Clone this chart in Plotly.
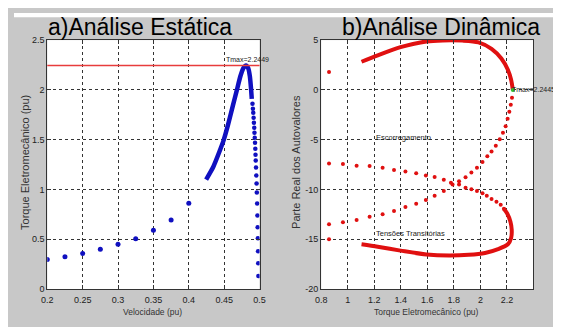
import plotly.graph_objects as go

# ---------------- data ----------------
# a) static analysis: torque vs speed
static_sparse_speed = [0.200, 0.225, 0.250, 0.275, 0.300, 0.325, 0.350, 0.375, 0.400]
static_sparse_torque = [0.298, 0.324, 0.357, 0.399, 0.450, 0.506, 0.590, 0.694, 0.863]

static_curve_speed = [0.4245, 0.4347, 0.4439, 0.4494, 0.4555, 0.4624, 0.4680, 0.4729,
                      0.4770, 0.4808, 0.4840, 0.4863, 0.4881, 0.4890]
static_curve_torque = [1.100, 1.229, 1.391, 1.498, 1.651, 1.845, 2.000, 2.137,
                       2.218, 2.2449, 2.218, 2.137, 2.000, 1.910]

static_tail_speed = [0.4900, 0.4906, 0.4911, 0.4916, 0.4920, 0.4925, 0.4928, 0.4932,
                     0.4936, 0.4940, 0.4943, 0.4946, 0.4950, 0.4954, 0.4958, 0.4962,
                     0.4966, 0.4970, 0.4973, 0.4976, 0.4979, 0.4981, 0.4983]
static_tail_torque = [1.86, 1.81, 1.77, 1.72, 1.67, 1.62, 1.57, 1.52, 1.47, 1.41, 1.35,
                      1.29, 1.22, 1.14, 1.06, 0.97, 0.86, 0.74, 0.62, 0.51, 0.38, 0.26, 0.13]

tmax_static = 2.2449

# b) dynamic analysis: real part of eigenvalues vs torque
upper_curve_torque = [1.104, 1.226, 1.398, 1.594, 1.717, 1.864, 1.986, 2.084,
                      2.158, 2.207, 2.231, 2.2445]
upper_curve_real = [2.83, 3.47, 4.29, 4.87, 4.97, 4.95, 4.77, 4.12,
                    3.15, 2.02, 1.04, 0.0]

rising_torque = [0.859, 0.964, 1.067, 1.165, 1.263, 1.349, 1.435, 1.516, 1.589, 1.655,
                 1.724, 1.790, 1.839, 1.888, 1.932, 1.974, 2.016, 2.052, 2.084, 2.116,
                 2.146, 2.170, 2.190, 2.205, 2.218, 2.229, 2.238]
rising_real = [-13.48, -13.29, -13.06, -12.73, -12.48, -12.15, -11.76, -11.44, -11.05,
               -10.63, -10.15, -9.49, -9.17, -8.78, -8.30, -7.81, -7.23, -6.67, -6.19,
               -5.60, -4.95, -4.31, -3.66, -2.90, -2.20, -1.50, -0.80]

falling_torque = [0.859, 0.964, 1.067, 1.165, 1.263, 1.349, 1.435, 1.516, 1.589, 1.655,
                  1.724, 1.778, 1.839, 1.888, 1.932, 1.974, 2.016, 2.048, 2.084, 2.121,
                  2.153, 2.177]
falling_real = [-7.39, -7.45, -7.61, -7.65, -7.81, -8.04, -8.20, -8.36, -8.59, -8.75,
                -9.01, -9.33, -9.50, -9.82, -9.98, -10.15, -10.37, -10.63, -10.95,
                -11.22, -11.54, -11.93]

lower_curve_torque = [2.177, 2.202, 2.226, 2.236, 2.232, 2.207, 2.133, 2.035, 1.912,
                      1.765, 1.594, 1.398, 1.226, 1.104]
lower_curve_real = [-11.93, -12.41, -13.22, -14.04, -14.84, -15.50, -15.98, -16.37,
                    -16.56, -16.63, -16.53, -16.14, -15.75, -15.50]

isolated_torque = [0.859, 0.859]
isolated_real = [1.79, -15.01]

tmax_dynamic = 2.2445

static_xticks = [0.2, 0.25, 0.3, 0.35, 0.4, 0.45, 0.5]
static_xlabels = ["0.2", "0.25", "0.3", "0.35", "0.4", "0.45", "0.5"]
static_yticks = [0, 0.5, 1, 1.5, 2, 2.5]
static_ylabels = ["0", "0.5", "1", "1.5", "2", "2.5"]
dyn_xticks = [0.8, 1.0, 1.2, 1.4, 1.6, 1.8, 2.0, 2.2]
dyn_xlabels = ["0.8", "1", "1.2", "1.4", "1.6", "1.8", "2", "2.2"]
dyn_yticks = [-20, -15, -10, -5, 0, 5]
dyn_ylabels = ["-20", "-15", "-10", "-5", "0", "5"]

# ---------------- figure ----------------
OFF = 8                      # page body margin offset
W, H = 561 - OFF, 327 - OFF
BLUE = "#1010c0"
RED = "#e01010"
SANS = "Liberation Sans, Arial, sans-serif"


def px(xp):
    return (xp - OFF) / W


def py(yp):
    return 1 - (yp - OFF) / H


fig = go.Figure()

# static
fig.add_trace(go.Scatter(x=static_sparse_speed, y=static_sparse_torque, mode="markers",
                         marker=dict(color=BLUE, size=5), xaxis="x", yaxis="y"))
fig.add_trace(go.Scatter(x=static_curve_speed, y=static_curve_torque, mode="lines",
                         line=dict(color=BLUE, width=4.5, shape="spline", smoothing=0.6),
                         xaxis="x", yaxis="y"))
fig.add_trace(go.Scatter(x=static_tail_speed, y=static_tail_torque, mode="markers",
                         marker=dict(color=BLUE, size=4.5), xaxis="x", yaxis="y"))

# dynamic
fig.add_trace(go.Scatter(x=upper_curve_torque, y=upper_curve_real, mode="lines",
                         line=dict(color=RED, width=4, shape="spline", smoothing=0.8),
                         xaxis="x2", yaxis="y2"))
fig.add_trace(go.Scatter(x=lower_curve_torque, y=lower_curve_real, mode="lines",
                         line=dict(color=RED, width=4, shape="spline", smoothing=0.8),
                         xaxis="x2", yaxis="y2"))
fig.add_trace(go.Scatter(x=rising_torque, y=rising_real, mode="markers",
                         marker=dict(color=RED, size=4), xaxis="x2", yaxis="y2"))
fig.add_trace(go.Scatter(x=falling_torque, y=falling_real, mode="markers",
                         marker=dict(color=RED, size=4), xaxis="x2", yaxis="y2"))
fig.add_trace(go.Scatter(x=isolated_torque, y=isolated_real, mode="markers",
                         marker=dict(color=RED, size=4), xaxis="x2", yaxis="y2"))
fig.add_trace(go.Scatter(x=[tmax_dynamic], y=[0], mode="markers",
                         marker=dict(color="#30c030", size=4), xaxis="x2", yaxis="y2"))

axis_common = dict(
    showgrid=True, gridcolor="#333", griddash="dot", gridwidth=1,
    zeroline=False, showline=True, linecolor="#333", linewidth=1,
    mirror="ticks", ticks="inside", ticklen=4, tickcolor="#333",
    tickfont=dict(family=SANS, size=9, color="#222"),
)

ytop = py(36)
ybot = py(293)

fig.update_layout(
    width=W, height=H,
    margin=dict(l=0, r=0, t=0, b=0),
    paper_bgcolor="#c8c8c8", plot_bgcolor="white",
    showlegend=False,
    xaxis=dict(domain=[px(42), px(259)], range=[0.2, 0.5], tickvals=static_xticks,
               ticktext=static_xlabels, anchor="y", ticklabelstandoff=2, **axis_common),
    yaxis=dict(domain=[ybot, ytop], range=[0, 2.5], tickvals=static_yticks,
               ticktext=static_ylabels, anchor="x", **axis_common),
    xaxis2=dict(domain=[px(322), px(539)], range=[0.8, 2.4], tickvals=dyn_xticks,
                ticktext=dyn_xlabels, anchor="y2", ticklabelstandoff=2, **axis_common),
    yaxis2=dict(domain=[ybot, ytop], range=[-20, 5], tickvals=dyn_yticks,
                ticktext=dyn_ylabels, anchor="x2", **axis_common),
)

# white band on top
fig.add_shape(type="rect", xref="paper", yref="paper", x0=0, x1=1, y0=py(12.5), y1=1,
              fillcolor="white", line=dict(width=0), layer="below")

# Tmax line (static)
fig.add_shape(type="line", xref="x domain", yref="y", x0=0, x1=1,
              y0=tmax_static, y1=tmax_static, line=dict(color="#e83c3c", width=1.3))

ann = []
ann.append(dict(text="a)Análise Estática", xref="paper", yref="paper",
                x=px(136.5), y=py(22.5), xanchor="center", yanchor="middle",
                showarrow=False, font=dict(family=SANS, size=23, color="black")))
ann.append(dict(text="b)Análise Dinâmica", xref="paper", yref="paper",
                x=px(444.5), y=py(22.5), xanchor="center", yanchor="middle",
                showarrow=False, font=dict(family=SANS, size=23, color="black")))
ann.append(dict(text="Velocidade (pu)", xref="paper", yref="paper",
                x=px(150), y=py(316.5), xanchor="center", yanchor="middle",
                showarrow=False, font=dict(family=SANS, size=8.5, color="#333")))
ann.append(dict(text="Torque Eletromecânico (pu)", xref="paper", yref="paper",
                x=px(430), y=py(316.5), xanchor="center", yanchor="middle",
                showarrow=False, font=dict(family=SANS, size=8.5, color="#333")))
ann.append(dict(text="Torque Eletromecânico (pu)", xref="paper", yref="paper",
                x=px(19), y=py(162), xanchor="center", yanchor="middle",
                textangle=-90, showarrow=False,
                font=dict(family=SANS, size=11, color="#333")))
ann.append(dict(text="Parte Real dos Autovalores", xref="paper", yref="paper",
                x=px(296), y=py(162), xanchor="center", yanchor="middle",
                textangle=-90, showarrow=False,
                font=dict(family=SANS, size=11, color="#333")))
ann.append(dict(text="Tmax=%.4f" % tmax_static, xref="x", yref="y", x=0.45, y=2.31,
                xanchor="left", yanchor="middle", showarrow=False,
                font=dict(family=SANS, size=7, color="#222")))
ann.append(dict(text="Tmax=%.4f" % tmax_dynamic, xref="x2", yref="y2", x=tmax_dynamic, y=0,
                xanchor="left", yanchor="middle", showarrow=False, xshift=-3,
                font=dict(family=SANS, size=7, color="#222")))
ann.append(dict(text="Escorregamento", xref="x2", yref="y2", x=1.195, y=-4.73,
                xanchor="left", yanchor="middle", showarrow=False,
                font=dict(family=SANS, size=7.5, color="#222")))
ann.append(dict(text="Tensões Transitórias", xref="x2", yref="y2", x=1.195, y=-14.46,
                xanchor="left", yanchor="middle", showarrow=False,
                font=dict(family=SANS, size=7.5, color="#222")))
fig.update_layout(annotations=ann)

fig.write_html("out.html")
